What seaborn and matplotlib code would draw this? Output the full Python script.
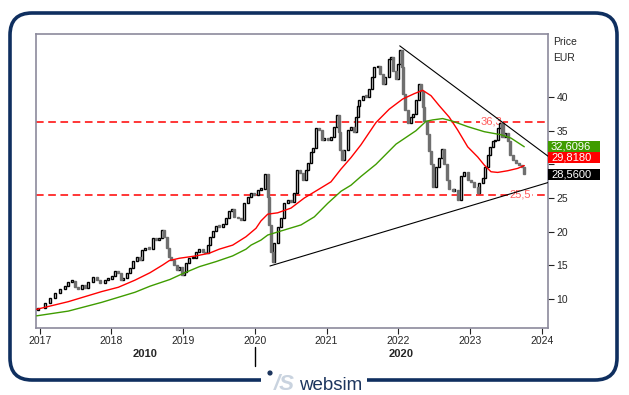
import numpy as np
import pandas as pd
import matplotlib.pyplot as plt
import seaborn as sns
from matplotlib.patches import FancyBboxPatch, Rectangle, Circle
from matplotlib.transforms import IdentityTransform

# weekly-ish candles (decimal year, close)
years = [2016.979, 2017.073, 2017.142, 2017.212, 2017.282, 2017.351, 2017.397, 2017.445, 2017.491,
         2017.529, 2017.584, 2017.630, 2017.676, 2017.746, 2017.794, 2017.840, 2017.910, 2017.955,
         2018.003, 2018.049, 2018.086, 2018.133, 2018.165, 2018.212, 2018.258, 2018.304, 2018.351,
         2018.397, 2018.430, 2018.467, 2018.527, 2018.575, 2018.621, 2018.667, 2018.704, 2018.736,
         2018.770, 2018.798, 2018.830, 2018.876, 2018.909, 2018.946, 2018.979,
         2019.015, 2019.039, 2019.085, 2019.133, 2019.179, 2019.225, 2019.272, 2019.308, 2019.342,
         2019.374, 2019.411, 2019.457, 2019.503, 2019.551, 2019.597, 2019.643, 2019.681, 2019.713,
         2019.760, 2019.807, 2019.853, 2019.900, 2019.946, 2019.992,
         2020.039, 2020.085, 2020.141, 2020.179, 2020.201, 2020.225, 2020.248, 2020.271, 2020.318,
         2020.364, 2020.410, 2020.457, 2020.503, 2020.550, 2020.587, 2020.633, 2020.667, 2020.713,
         2020.745, 2020.782, 2020.806, 2020.852, 2020.898, 2020.932, 2020.968,
         2021.015, 2021.061, 2021.107, 2021.145, 2021.169, 2021.191, 2021.215, 2021.247, 2021.294,
         2021.340, 2021.378, 2021.410, 2021.434, 2021.456, 2021.503, 2021.550, 2021.587, 2021.633,
         2021.665, 2021.713, 2021.745, 2021.782, 2021.819, 2021.866, 2021.898, 2021.930, 2021.968,
         2021.998, 2022.024, 2022.052, 2022.070, 2022.098, 2022.131, 2022.177, 2022.209, 2022.247,
         2022.285, 2022.317, 2022.340, 2022.363, 2022.396, 2022.424, 2022.456, 2022.488, 2022.526,
         2022.572, 2022.609, 2022.642, 2022.675, 2022.711, 2022.759, 2022.781, 2022.828, 2022.874,
         2022.921, 2022.968,
         2023.014, 2023.060, 2023.107, 2023.130, 2023.177, 2023.209, 2023.247, 2023.283, 2023.317,
         2023.349, 2023.386, 2023.423, 2023.454, 2023.488, 2023.526, 2023.562, 2023.596, 2023.642,
         2023.688, 2023.721, 2023.757]
closes = [8.62, 9.36, 10.1, 10.85, 11.44, 11.93, 12.57, 12.6, 11.74, 11.44, 12.1, 11.6, 12.57, 13.2,
          12.8, 12.4, 12.8, 12.9,
          13.4, 14.2, 13.8, 12.8, 13.07, 13.9, 14.56, 15.7, 16.2, 15.8, 17.3, 17.5, 17.4, 19.0, 18.75,
          19.0, 20.25, 19.25, 17.5, 16.2, 15.8, 15.05, 14.3, 14.8, 13.56,
          14.05, 15.4, 16.05, 16.05, 17.0, 17.4, 17.0, 16.8, 18.0, 19.25, 20.1, 20.8, 20.7, 21.2, 22.0,
          23.0, 23.3, 22.2, 22.0, 21.7, 24.2, 25.2, 25.7, 25.4,
          26.2, 26.4, 28.5, 25.2, 21.0, 17.0, 15.5, 18.3, 20.7, 22.0, 24.2, 24.7, 24.45, 25.7, 29.2,
          28.7, 27.7, 29.2, 30.2, 31.9, 32.4, 35.4, 35.1, 33.6, 33.9,
          33.6, 34.1, 35.6, 37.3, 34.8, 32.1, 30.6, 32.1, 35.1, 35.6, 34.8, 37.1, 38.6, 39.5, 40.2,
          40.0, 41.2, 42.9, 44.4, 44.6, 43.4, 41.9, 42.9, 45.6, 45.9, 43.9, 42.7,
          44.9, 47.0, 44.4, 40.4, 38.0, 36.2, 37.0, 37.5, 39.5, 41.9, 40.9, 38.5, 36.5, 34.5, 32.0,
          30.0, 26.6, 29.6, 31.0, 32.3, 30.0, 27.6, 26.3, 26.1, 26.2, 24.7, 28.2, 28.9, 27.7,
          27.4, 26.7, 25.7, 27.2, 27.9, 29.65, 31.4, 32.6, 33.4, 33.6, 35.35, 36.1, 34.1, 34.6, 33.4,
          31.4, 30.6, 30.2, 29.9, 29.65, 28.56]
first_open = 8.3

# moving averages
red_x = [2016.957, 2017.397, 2017.863, 2018.095, 2018.328, 2018.537, 2018.714, 2018.806, 2018.946,
         2019.179, 2019.364, 2019.503, 2019.690, 2019.876, 2020.015, 2020.085, 2020.179, 2020.318,
         2020.503, 2020.689, 2020.876, 2021.061, 2021.201, 2021.340, 2021.479, 2021.688, 2021.874,
         2022.061, 2022.223, 2022.340, 2022.456, 2022.572, 2022.711, 2022.828, 2022.968, 2023.107,
         2023.199, 2023.293, 2023.386, 2023.526, 2023.665, 2023.757]
red_ma = [8.47, 9.6, 11.1, 11.74, 12.8, 13.9, 15.05, 15.7, 16.05, 16.4, 16.8, 17.4, 18.0, 19.25,
          20.5, 21.6, 22.6, 22.8, 23.5, 25.0, 26.2, 27.4, 29.3, 31.0, 32.9, 36.2, 38.2, 39.7, 40.5,
          41.0, 40.2, 38.7, 37.0, 35.1, 32.6, 31.1, 29.9, 28.9, 28.8, 29.05, 29.4, 29.82]
green_x = [2016.957, 2017.397, 2017.863, 2018.328, 2018.537, 2018.816, 2019.0, 2019.225, 2019.457,
           2019.690, 2019.876, 2019.946, 2020.085, 2020.179, 2020.410, 2020.643, 2020.829, 2021.015,
           2021.201, 2021.340, 2021.479, 2021.688, 2021.968, 2022.247, 2022.387, 2022.480, 2022.619,
           2022.759, 2022.968, 2023.199, 2023.431, 2023.571, 2023.757]
green_ma = [7.5, 8.2, 9.5, 11.0, 11.9, 12.9, 13.8, 14.8, 15.55, 16.4, 17.4, 18.0, 18.75, 19.5, 20.25,
            21.0, 22.2, 24.2, 26.0, 26.9, 28.2, 30.0, 33.0, 35.0, 36.4, 36.6, 36.8, 36.4, 35.6, 34.85,
            34.4, 33.9, 32.61]

resistance = 36.3
support = 25.5
upper_x = [2022.02, 2024.09]
upper_y = [47.6, 31.2]
lower_x = [2020.21, 2024.09]
lower_y = [14.9, 27.3]

last_green = 32.6096
last_red = 29.8180
last_close = 28.56

yticks = [10, 15, 20, 25, 30, 35, 40]
xticks = [2017, 2018, 2019, 2020, 2021, 2022, 2023, 2024]
decades = ["2010", "2020"]

sns.set_style("white")
plt.rcParams["font.family"] = ["Liberation Sans", "DejaVu Sans"]

W, H = 629, 395
fig = plt.figure(figsize=(W / 100, H / 100), dpi=100)
ax = fig.add_axes([36 / W, 1 - 328 / H, 512 / W, 294 / H])
x0, x1 = 2016.947, 2024.088
ax.set_xlim(x0, x1)
ax.set_ylim(5.69, 49.36)

# candles
df = pd.DataFrame({"t": years, "close": closes})
df["open"] = df["close"].shift(1).fillna(first_open)
df["bottom"] = df[["open", "close"]].min(axis=1)
df["height"] = (df["close"] - df["open"]).abs().clip(lower=0.25)
up = df["close"] >= df["open"]
ax.bar(df.t[up], df.height[up], bottom=df.bottom[up], width=0.03,
       color="white", edgecolor="black", linewidth=1.0, zorder=3)
ax.bar(df.t[~up], df.height[~up], bottom=df.bottom[~up], width=0.03,
       color="#6f6f6f", edgecolor="#6f6f6f", linewidth=1.0, zorder=3)

sns.lineplot(x=red_x, y=red_ma, color="#ff0000", linewidth=1, ax=ax, zorder=4)
sns.lineplot(x=green_x, y=green_ma, color="#3f9c00", linewidth=1, ax=ax, zorder=4)

for lvl, lab, xpos in [(resistance, "36,3", 2023.30), (support, "25,5", 2023.70)]:
    ax.axhline(lvl, color="#ff0000", linestyle=(0, (5, 3)), linewidth=1.1, zorder=2)
    ax.text(xpos, lvl, lab, color="#ff5c5c", fontsize=8, ha="center", va="center", zorder=2.5,
            bbox=dict(boxstyle="square,pad=0.1", fc="white", ec="none"))

ax.plot(upper_x, upper_y, color="black", linewidth=0.8, zorder=4)
ax.plot(lower_x, lower_y, color="black", linewidth=0.8, zorder=4)

for s in ax.spines.values():
    s.set_visible(True)
    s.set_color("#8c8a9c")
    s.set_linewidth(1.2)

ax.yaxis.tick_right()
ax.set_yticks(yticks)
# the 30 label sits behind the last-value tags
ax.set_yticklabels(["" if v == 30 else str(v) for v in yticks])
ax.set_xticks(xticks)
ax.tick_params(axis="y", direction="out", length=4, width=0.8, color="#222222",
               labelsize=7.5, pad=2, right=True, left=False)
ax.tick_params(axis="x", direction="out", length=4, width=0.8, color="#222222",
               labelsize=7.5, pad=2, bottom=True)
ax.set_xlabel("")
ax.set_ylabel("")

# decade labels below the year axis
trans_x = ax.get_xaxis_transform()
ax.text((x0 + 2020) / 2, -0.088, decades[0], transform=trans_x, ha="center", va="center",
        fontsize=8, fontweight="bold")
ax.text((2020 + x1) / 2, -0.088, decades[1], transform=trans_x, ha="center", va="center",
        fontsize=8, fontweight="bold")
ax.plot([2020, 2020], [-0.065, -0.13], transform=trans_x, color="black", linewidth=1,
        clip_on=False)

# last value tags on the right
ty_black = last_close
ty_red = max(last_red, ty_black + 2.4)
ty_green = max(last_green, ty_red + 1.75)
trans_y = ax.get_yaxis_transform()
for val, ty, col in [(last_green, ty_green, "#3f9c00"), (last_red, ty_red, "#ff0000"),
                     (last_close, ty_black, "#000000")]:
    ax.add_patch(Rectangle((1.0, ty - 0.82), 52 / 512, 1.64, transform=trans_y, clip_on=False,
                           facecolor=col, edgecolor="none", zorder=10))
    ax.text(1.0 + 3 / 512, ty, f"{val:.4f}".replace(".", ","), transform=trans_y, color="white",
            fontsize=8, va="center", ha="left", zorder=11, clip_on=False)

fig.text(553 / W, 1 - 42 / H, "Price", fontsize=7.5, va="center")
fig.text(553 / W, 1 - 58 / H, "EUR", fontsize=7.5, va="center")

# rounded frame with logo gap
navy = "#0f2f5f"
pix = IdentityTransform()
fig.add_artist(FancyBboxPatch((10, 15), 607, 367, boxstyle="round,pad=0,rounding_size=22",
                              transform=pix, facecolor="none", edgecolor=navy, linewidth=2.6))
fig.add_artist(Rectangle((261, 6), 106, 18, transform=pix, facecolor="white", edgecolor="none"))
fig.add_artist(Circle((270, 22), 2.6, transform=pix, facecolor="#1c355e", edgecolor="none"))
fig.text(274 / W, 5 / H, "/S", color="#c9d3df", fontsize=16, fontweight="bold",
         fontstyle="italic", ha="left", va="baseline")
fig.text(299 / W, 5 / H, "websim", color="#1c355e", fontsize=13.5, ha="left", va="baseline")

fig.savefig("out.png", dpi=100)
